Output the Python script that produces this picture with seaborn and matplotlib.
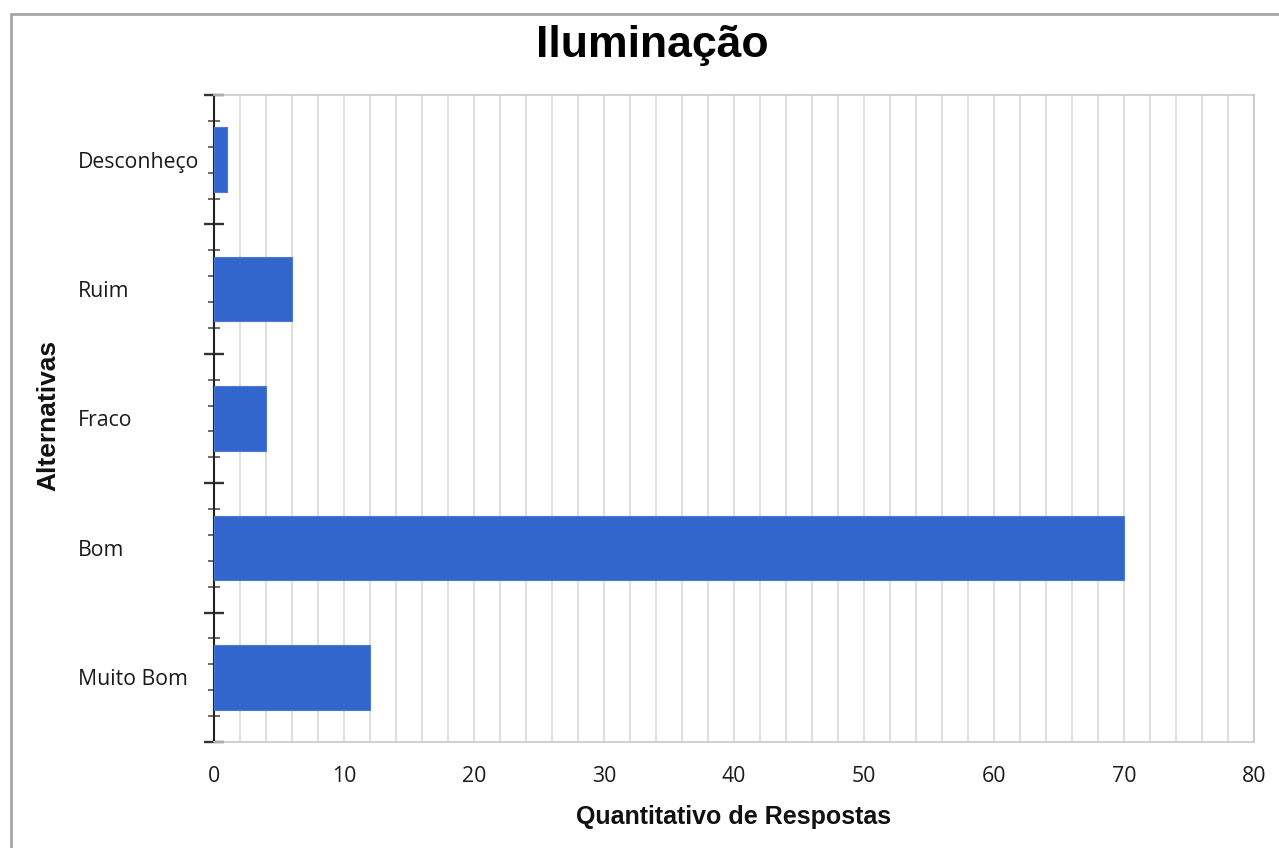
import matplotlib
matplotlib.use("Agg")
import matplotlib.pyplot as plt
import seaborn as sns
import numpy as np
import pandas as pd
from matplotlib.lines import Line2D

categories = ["Desconheço", "Ruim", "Fraco", "Bom", "Muito Bom"]
values = [1, 6, 4, 70, 12]
x_ticks = [0, 10, 20, 30, 40, 50, 60, 70, 80]

title = "Iluminação"
x_label = "Quantitativo de Respostas"
y_label = "Alternativas"

bar_color = "#3366CC"

sns.set_theme(style="white")
plt.rcParams["font.family"] = ["Open Sans", "DejaVu Sans"]

df = pd.DataFrame({"cat": categories, "val": values})

fig = plt.figure(figsize=(12.79, 8.48), dpi=100)
ax = fig.add_axes([214 / 1279, 1 - 742 / 848, 1040 / 1279, 647 / 848])

sns.barplot(data=df, x="val", y="cat", orient="h", color=bar_color,
            width=0.5, saturation=1, ax=ax, edgecolor="#4a7ad6", linewidth=0.8,
            zorder=3)

n = len(categories)
ax.set_xlim(0, 80)
ax.set_ylim(n - 0.5, -0.5)

# x grid every 2 units
ax.set_xticks(x_ticks)
ax.set_xticks(np.arange(0, 81, 2), minor=True)
ax.grid(axis="x", which="both", color="#d9d9d9", linewidth=1.2, zorder=0)
ax.grid(axis="y", visible=False)
ax.tick_params(axis="x", which="both", length=0, pad=17, labelsize=15.3,
               labelcolor="#1a1a1a")

# y ticks: major at boundaries, minor subdivisions
bounds = np.arange(-0.5, n, 1.0)
ax.set_yticks(bounds)
ax.set_yticklabels([""] * len(bounds))
ax.set_yticks(np.arange(-0.5, n - 0.45, 0.2), minor=True)
ax.tick_params(axis="y", which="major", left=True, length=14, width=1.7,
               direction="inout", color="#333333")
ax.tick_params(axis="y", which="minor", left=True, length=9, width=1.1,
               direction="inout", color="#444444")

sec = ax.secondary_yaxis("left")
sec.set_yticks(np.arange(n))
sec.set_yticklabels(categories)
sec.tick_params(length=0, pad=98, labelsize=15.3, labelcolor="#1a1a1a")
for lbl in sec.get_yticklabels():
    lbl.set_horizontalalignment("left")
sec.spines["left"].set_visible(False)

for s in ["top", "right", "bottom"]:
    ax.spines[s].set_color("#c8c8c8")
    ax.spines[s].set_linewidth(1.2)
ax.spines["left"].set_color("#222222")
ax.spines["left"].set_linewidth(1.5)

ax.set_ylabel("")
ax.set_xlabel(x_label, fontsize=18, fontweight="bold",
              family=["Liberation Sans", "DejaVu Sans"], labelpad=13,
              color="#111111")
fig.text(48 / 1279, 1 - 415 / 848, y_label, rotation=90, fontsize=19,
         fontweight="bold", family=["Liberation Sans", "DejaVu Sans"],
         ha="center", va="center", color="#111111")

fig.text(652 / 1279, 1 - 45 / 848, title, fontsize=32, fontweight="bold",
         family=["Liberation Sans", "DejaVu Sans"], ha="center", va="center",
         color="#000000")

# outer chart border (left and top edges visible)
fig.add_artist(Line2D([11 / 1279, 11 / 1279], [0, 1 - 14 / 848],
                      transform=fig.transFigure, color="#a6a6a6", linewidth=2))
fig.add_artist(Line2D([11 / 1279, 1], [1 - 14 / 848, 1 - 14 / 848],
                      transform=fig.transFigure, color="#a6a6a6", linewidth=2))

fig.savefig("out.png", dpi=100)
